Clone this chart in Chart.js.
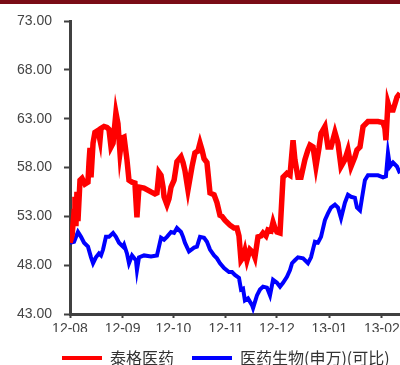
<!DOCTYPE html>
<html>
<head>
<meta charset="utf-8">
<script src="https://cdn.jsdelivr.net/npm/chart.js@4.4.1/dist/chart.umd.min.js"></script>
<style>
  body { margin: 0; background: #fff; }
  #topbar { position: absolute; left: 0; top: 0; width: 400px; height: 4px; background: #7a0c16; }
  #wrap { position: absolute; left: 0; top: 0; width: 400px; height: 365px; }
</style>
</head>
<body>
<div id="wrap"><canvas id="chart"></canvas></div>
<div id="topbar"></div>
<script>
// x positions are calendar days counted from 2012-08-01
const tickDays = [0, 31, 61, 92, 122, 153, 184];
const tickLabels = ['12-08', '12-09', '12-10', '12-11', '12-12', '13-01', '13-02'];
const yTicks = [43, 48, 53, 58, 63, 68, 73];

const seriesNames = ['泰格医药', '医药生物(申万)(可比)'];

const tigerDays = [0, 1.2, 2.4, 2.9, 3.5, 4.1, 4.7, 5.9, 7.1, 8.8, 10.6, 11.2, 11.8, 12.4, 13.6, 14.7,
    16.5, 17.7, 18.3, 20.1, 21.8, 23.0, 24.2, 25.4, 27.1, 28.3, 29.5, 30.7, 31.9, 33.6, 34.8, 36.6,
    38.3, 39.5, 40.7, 43.7, 47.8, 50.1, 51.3, 52.5, 53.7, 54.9, 55.5, 57.2, 58.4, 59.6, 61.4, 63.1,
    65.5, 66.7, 67.8, 69.6, 72.0, 73.7, 75.5, 76.7, 77.9, 79.1, 80.8, 82.6, 85.0, 86.7, 88.5, 89.7,
    91.4, 94.4, 96.8, 98.5, 99.7, 100.9, 102.1, 103.2, 104.4, 106.2, 108.0, 109.1, 110.9, 112.7, 113.9, 115.6,
    116.8, 118.6, 119.8, 120.9, 122.1, 123.9, 125.7, 128.0, 129.8, 131.6, 132.7, 134.5, 136.3, 138.6, 140.4, 141.6,
    143.4, 145.1, 146.9, 148.1, 150.4, 152.2, 154.0, 156.3, 158.1, 159.9, 162.2, 164.0, 165.8, 168.1, 169.3, 171.1,
    172.9, 175.8, 178.8, 181.7, 184.7, 185.8, 186.4, 187.6, 188.8, 190.6, 191.7, 192.9, 194.7];
const tigerValues = [50.3, 51.0, 53.5, 55.0, 52.0, 55.5, 52.5, 56.7, 56.9, 56.3, 56.5, 58.5, 60.0, 57.0, 60.5, 61.6,
    61.8, 60.8, 62.0, 62.2, 62.1, 61.9, 60.1, 60.5, 63.6, 62.5, 59.5, 61.0, 61.1, 58.8, 56.7, 56.5,
    56.4, 52.9, 56.0, 55.9, 55.5, 55.3, 55.4, 57.5, 57.2, 56.0, 55.0, 54.2, 54.8, 56.0, 56.7, 58.6,
    59.1, 58.5, 57.7, 55.7, 58.1, 59.5, 59.7, 60.5, 59.8, 58.9, 58.5, 55.4, 55.2, 54.4, 53.1, 53.0,
    52.6, 52.1, 51.8, 51.8, 51.0, 48.5, 48.8, 49.5, 48.5, 49.6, 49.3, 48.8, 50.9, 51.0, 51.3, 51.0,
    51.6, 51.5, 52.4, 51.8, 51.4, 51.3, 57.0, 57.4, 57.2, 60.8, 58.8, 57.0, 57.0, 58.8, 59.8, 60.3,
    60.1, 58.1, 60.0, 61.5, 62.2, 60.1, 60.1, 61.6, 60.5, 58.1, 58.8, 59.8, 58.1, 59.1, 59.8, 60.1,
    62.2, 62.7, 62.7, 62.7, 62.6, 62.0, 60.8, 64.6, 63.9, 63.9, 64.5, 65.2, 65.6];

const sectorDays = [0, 2.4, 4.7, 6.5, 8.3, 10.6, 12.4, 13.6, 15.3, 17.1, 18.3, 19.5, 21.2, 23.0, 25.4, 27.1,
    28.9, 31.3, 31.9, 33.6, 34.8, 36.6, 38.9, 39.5, 40.7, 43.7, 47.8, 51.3, 52.5, 53.7, 55.5, 57.2,
    59.6, 61.4, 63.1, 65.5, 66.7, 67.8, 70.2, 73.2, 74.9, 76.7, 79.1, 80.8, 82.6, 85.0, 86.7, 88.5,
    90.9, 93.8, 95.6, 97.3, 99.7, 100.9, 102.1, 103.2, 105.0, 107.4, 108.0, 110.3, 112.1, 113.9, 116.2, 118.0,
    119.8, 122.1, 123.9, 125.7, 128.0, 129.8, 131.0, 132.7, 134.5, 137.5, 140.4, 142.2, 144.5, 146.3, 148.1, 150.4,
    152.2, 154.0, 156.3, 158.1, 159.9, 162.2, 164.0, 165.8, 168.1, 169.3, 171.1, 172.3, 174.0, 175.8, 178.8, 181.7,
    184.7, 186.4, 187.6, 188.8, 190.6, 192.9, 194.7];
const sectorValues = [50.3, 50.4, 51.4, 50.9, 50.3, 49.9, 48.8, 48.2, 48.8, 49.2, 49.0, 49.6, 50.9, 50.9, 51.3, 50.9,
    50.3, 49.9, 50.1, 49.2, 48.2, 49.0, 48.5, 47.5, 48.8, 49.0, 48.9, 49.0, 49.9, 50.8, 50.6, 50.9,
    51.4, 51.3, 51.8, 51.4, 50.9, 50.3, 49.4, 49.8, 49.9, 50.9, 50.8, 50.4, 49.6, 49.0, 48.7, 48.2,
    47.7, 47.3, 47.3, 47.0, 46.7, 45.5, 45.6, 44.4, 44.6, 43.9, 43.6, 44.9, 45.5, 45.8, 45.7, 44.9,
    46.5, 46.2, 45.8, 46.2, 46.8, 47.5, 48.2, 48.5, 48.8, 48.7, 48.2, 48.8, 50.4, 50.3, 50.9, 52.6,
    53.3, 53.9, 54.2, 53.9, 52.8, 54.4, 55.2, 55.0, 54.9, 53.9, 53.6, 54.9, 56.7, 57.2, 57.2, 57.2,
    57.0, 57.1, 59.5, 58.1, 58.5, 58.1, 57.4];

const toPoints = (xs, ys) => xs.map((x, i) => ({ x: x, y: ys[i] }));

// move the bottom legend to the right so it starts under the plot like the original
const legendShift = {
    id: 'legendShift',
    afterLayout(c) {
        c.legend.left += 44;
        c.legend.right += 44;
    }
};

const axisColor = '#404040';
const ctx = document.getElementById('chart').getContext('2d');
const chart = new Chart(ctx, {
    type: 'line',
    data: {
        datasets: [
            {
                label: seriesNames[0],
                data: toPoints(tigerDays, tigerValues),
                borderColor: '#ff0000',
                backgroundColor: '#ff0000',
                borderWidth: 5.5,
                pointRadius: 0,
                tension: 0
            },
            {
                label: seriesNames[1],
                data: toPoints(sectorDays, sectorValues),
                borderColor: '#0000ff',
                backgroundColor: '#0000ff',
                borderWidth: 4,
                pointRadius: 0,
                tension: 0
            }
        ]
    },
    plugins: [legendShift],
    options: {
        responsive: true,
        maintainAspectRatio: false,
        animation: false,
        layout: {
            padding: { top: 21, left: 0, right: 0, bottom: 0 }
        },
        plugins: {
            tooltip: { enabled: false },
            legend: {
                position: 'bottom',
                align: 'start',
                maxHeight: 33,
                labels: {
                    boxWidth: 40,
                    boxHeight: 4,
                    padding: 18,
                    color: '#333',
                    font: { family: '"Noto Sans CJK SC", sans-serif', size: 16 },
                    generateLabels: (c) => c.data.datasets.map((ds, i) => ({
                        text: ds.label,
                        fillStyle: ds.borderColor,
                        strokeStyle: ds.borderColor,
                        lineWidth: 0,
                        fontColor: '#333',
                        datasetIndex: i
                    }))
                }
            }
        },
        scales: {
            x: {
                type: 'linear',
                min: 0,
                max: 194.7,
                afterBuildTicks: (s) => { s.ticks = tickDays.map(v => ({ value: v })); },
                afterFit: (s) => { s.height = 18; s.paddingRight = 0; },
                ticks: {
                    padding: 3,
                    maxRotation: 0,
                    color: '#444',
                    font: { family: '"Liberation Sans", Arial, sans-serif', size: 14 },
                    callback: (v) => tickLabels[tickDays.indexOf(v)]
                },
                grid: {
                    drawOnChartArea: false,
                    tickLength: 4,
                    tickWidth: 2,
                    tickColor: axisColor
                },
                border: { color: axisColor, width: 3 }
            },
            y: {
                min: 43,
                max: 73,
                afterBuildTicks: (s) => { s.ticks = yTicks.map(v => ({ value: v })); },
                afterFit: (s) => { s.width = 70; },
                ticks: {
                    padding: 12,
                    color: '#444',
                    font: { family: '"Liberation Sans", Arial, sans-serif', size: 14 },
                    callback: (v) => v.toFixed(2)
                },
                grid: {
                    drawOnChartArea: false,
                    tickLength: 6,
                    tickWidth: 2,
                    tickColor: axisColor
                },
                border: { color: axisColor, width: 3 }
            }
        }
    }
});
</script>
</body>
</html>
